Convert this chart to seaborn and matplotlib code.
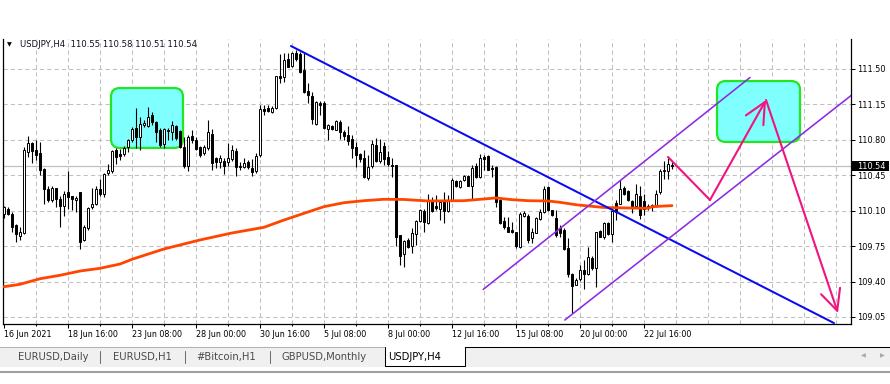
import numpy as np
import pandas as pd
import matplotlib
matplotlib.use("Agg")
import matplotlib.pyplot as plt
import matplotlib.transforms as mtransforms
from matplotlib.patches import FancyBboxPatch, Rectangle
import seaborn as sns

# ---------------- data ----------------
symbol = "USDJPY,H4"
header_ohlc = ["110.55", "110.58", "110.51", "110.54"]
bid_price = 110.54

opens = [110.07, 110.12, 110.07, 109.96, 109.85, 109.88, 110.68, 110.77, 110.70, 110.67,
         110.51, 110.31, 110.21, 110.32, 110.22, 110.15, 110.28, 110.25, 110.21, 110.28,
         109.81, 109.93, 110.14, 110.17, 110.31, 110.27, 110.47, 110.49, 110.70, 110.66,
         110.66, 110.73, 110.80, 110.92, 110.83, 110.95, 110.94, 111.05, 110.98, 110.90,
         110.76, 110.90, 110.88, 110.94, 110.89, 110.73, 110.54, 110.84, 110.80, 110.73,
         110.67, 110.72, 110.86, 110.62, 110.58, 110.59, 110.58, 110.61, 110.69, 110.54,
         110.53, 110.58, 110.52, 110.49, 110.65, 111.10, 111.11, 111.08, 111.11, 111.43,
         111.42, 111.60, 111.53, 111.66, 111.65, 111.49, 111.28, 111.23, 110.96, 111.16,
         111.16, 110.91, 110.94, 110.90, 110.98, 110.88, 110.85, 110.81, 110.73, 110.66,
         110.62, 110.42, 110.54, 110.75, 110.59, 110.74, 110.63, 110.55, 110.55, 109.86,
         109.67, 109.81, 109.75, 109.87, 110.00, 110.10, 109.98, 110.20, 110.15, 110.12,
         110.21, 110.10, 110.21, 110.39, 110.33, 110.40, 110.44, 110.34, 110.54, 110.43,
         110.63, 110.64, 110.52, 110.53, 110.21, 110.00, 109.94, 109.91, 109.89, 109.74,
         110.05, 110.05, 109.83, 109.88, 110.02, 110.09, 110.33, 110.11, 110.03, 109.93,
         109.91, 109.73, 109.47, 109.37, 109.43, 109.51, 109.47, 109.63, 109.53, 109.90,
         109.84, 109.98, 109.87, 110.18, 110.17, 110.32, 110.29, 110.20, 110.15, 110.25,
         110.20, 110.14, 110.14, 110.15, 110.28, 110.49, 110.49, 110.55]
highs = [110.15, 110.14, 110.09, 109.97, 109.94, 110.73, 110.84, 110.78, 110.80, 110.78,
         110.52, 110.34, 110.34, 110.32, 110.25, 110.29, 110.49, 110.25, 110.25, 110.28,
         109.96, 110.14, 110.32, 110.34, 110.41, 110.47, 110.56, 110.70, 110.72, 110.71,
         110.74, 110.81, 110.93, 111.11, 111.03, 111.00, 111.12, 111.08, 110.99, 110.92,
         110.92, 110.92, 110.99, 110.95, 110.90, 110.83, 110.85, 110.90, 110.83, 110.74,
         110.75, 111.00, 110.91, 110.63, 110.65, 110.62, 110.77, 110.75, 110.72, 110.58,
         110.62, 110.60, 110.61, 110.67, 111.14, 111.14, 111.14, 111.13, 111.43, 111.65,
         111.66, 111.66, 111.67, 111.69, 111.67, 111.66, 111.36, 111.27, 111.18, 111.18,
         111.18, 110.96, 110.95, 111.00, 111.00, 110.90, 110.94, 110.85, 110.78, 110.67,
         110.70, 110.65, 110.80, 110.82, 110.81, 110.78, 110.69, 110.62, 110.55, 109.86,
         109.81, 109.83, 109.93, 110.01, 110.12, 110.12, 110.27, 110.24, 110.26, 110.21,
         110.28, 110.26, 110.42, 110.40, 110.40, 110.45, 110.45, 110.55, 110.57, 110.66,
         110.65, 110.65, 110.55, 110.54, 110.22, 110.04, 110.04, 109.99, 109.89, 110.09,
         110.10, 110.07, 109.93, 110.04, 110.12, 110.34, 110.34, 110.11, 110.11, 109.96,
         109.93, 109.83, 109.48, 109.44, 109.56, 109.61, 109.74, 109.65, 109.89, 109.91,
         109.99, 109.99, 110.14, 110.21, 110.40, 110.34, 110.30, 110.21, 110.36, 110.34,
         110.27, 110.17, 110.17, 110.30, 110.51, 110.59, 110.62, 110.58]
lows = [110.03, 110.06, 109.89, 109.79, 109.81, 109.87, 110.63, 110.57, 110.60, 110.45,
        110.17, 110.19, 110.19, 110.14, 109.94, 110.05, 110.12, 110.11, 110.09, 109.72,
        109.80, 109.91, 110.12, 110.16, 110.25, 110.24, 110.45, 110.47, 110.56, 110.60,
        110.64, 110.68, 110.78, 110.72, 110.70, 110.93, 110.93, 110.95, 110.78, 110.73,
        110.72, 110.80, 110.80, 110.80, 110.72, 110.52, 110.49, 110.77, 110.70, 110.63,
        110.65, 110.70, 110.50, 110.52, 110.52, 110.46, 110.54, 110.59, 110.44, 110.50,
        110.52, 110.51, 110.44, 110.47, 110.63, 111.05, 111.08, 111.07, 111.10, 111.36,
        111.37, 111.52, 111.52, 111.58, 111.46, 111.26, 111.16, 110.96, 110.95, 111.05,
        110.91, 110.80, 110.90, 110.90, 110.81, 110.80, 110.75, 110.62, 110.53, 110.58,
        110.42, 110.40, 110.52, 110.58, 110.57, 110.55, 110.54, 110.43, 109.75, 109.56,
        109.54, 109.73, 109.68, 109.76, 109.99, 109.89, 109.97, 110.09, 110.11, 110.01,
        109.98, 110.09, 110.20, 110.33, 110.32, 110.39, 110.34, 110.21, 110.42, 110.42,
        110.50, 110.50, 110.43, 110.14, 109.97, 109.92, 109.89, 109.88, 109.73, 109.73,
        110.04, 109.78, 109.78, 109.88, 110.01, 110.08, 110.10, 110.05, 109.84, 109.84,
        109.71, 109.45, 109.09, 109.37, 109.41, 109.33, 109.46, 109.51, 109.35, 109.84,
        109.82, 109.86, 109.79, 110.01, 110.17, 110.26, 110.20, 110.08, 110.14, 110.02,
        110.06, 110.11, 110.10, 110.14, 110.27, 110.41, 110.41, 110.51]
closes = [110.14, 110.07, 109.94, 109.87, 109.89, 110.70, 110.77, 110.69, 110.65, 110.50,
          110.31, 110.21, 110.32, 110.22, 110.15, 110.27, 110.24, 110.22, 110.23, 109.79,
          109.94, 110.13, 110.17, 110.31, 110.27, 110.46, 110.50, 110.69, 110.63, 110.64,
          110.72, 110.80, 110.91, 110.83, 110.96, 110.97, 111.03, 110.98, 110.88, 110.75,
          110.91, 110.89, 110.95, 110.82, 110.73, 110.54, 110.83, 110.80, 110.71, 110.65,
          110.73, 110.88, 110.57, 110.58, 110.62, 110.54, 110.62, 110.70, 110.53, 110.53,
          110.57, 110.53, 110.48, 110.64, 111.10, 111.09, 111.09, 111.11, 111.43, 111.41,
          111.59, 111.52, 111.66, 111.60, 111.47, 111.27, 111.24, 111.01, 111.17, 111.14,
          110.92, 110.95, 110.91, 110.99, 110.88, 110.84, 110.79, 110.72, 110.65, 110.61,
          110.43, 110.53, 110.76, 110.59, 110.68, 110.61, 110.56, 110.54, 109.84, 109.65,
          109.80, 109.74, 109.88, 110.00, 110.11, 109.99, 110.20, 110.10, 110.13, 110.19,
          110.10, 110.21, 110.40, 110.34, 110.39, 110.44, 110.34, 110.52, 110.43, 110.62,
          110.61, 110.50, 110.51, 110.19, 109.98, 109.94, 109.89, 109.89, 109.75, 110.07,
          110.08, 109.81, 109.89, 110.03, 110.09, 110.31, 110.11, 110.06, 109.86, 109.88,
          109.72, 109.47, 109.36, 109.42, 109.51, 109.47, 109.64, 109.53, 109.89, 109.84,
          109.98, 109.87, 110.10, 110.09, 110.31, 110.27, 110.21, 110.15, 110.27, 110.06,
          110.12, 110.15, 110.16, 110.27, 110.49, 110.50, 110.56, 110.54]

ma_bars = [0, 4, 9, 14, 19, 24, 29, 32, 40, 49, 57, 65, 70, 75, 80, 85, 90, 95, 100,
           106, 115, 120, 123, 127, 131, 136, 139, 143, 146, 150, 156, 161, 162, 167]
ma_values = [109.349, 109.373, 109.428, 109.462, 109.504, 109.531, 109.573, 109.620,
             109.722, 109.811, 109.880, 109.936, 110.008, 110.074, 110.140, 110.179,
             110.199, 110.213, 110.211, 110.196, 110.199, 110.216, 110.226, 110.209,
             110.199, 110.196, 110.183, 110.159, 110.147, 110.132, 110.127, 110.124,
             110.140, 110.150]

time_label_bars = [0, 16, 32, 48, 64, 80, 96, 112, 128, 144, 160]
time_labels = ["16 Jun 2021", "18 Jun 16:00", "23 Jun 08:00", "28 Jun 00:00",
               "30 Jun 16:00", "5 Jul 08:00", "8 Jul 00:00", "12 Jul 16:00",
               "15 Jul 08:00", "20 Jul 00:00", "22 Jul 16:00"]
price_ticks = [109.05, 109.40, 109.75, 110.10, 110.45, 110.80, 111.15, 111.50]

# chart objects (bar index, price)
box_left = [26.75, 178.25]
box_right = [44.75, 199.0]
box_bottom = [110.720, 110.779]
box_top = [111.312, 111.381]
trend_blue_bars = [71.75, 207.5]
trend_blue_prices = [111.727, 108.99]
channel_up_bars = [119.8, 186.5]
channel_up_prices = [109.322, 111.416]
channel_low_bars = [140.2, 213.0]
channel_low_prices = [109.020, 111.276]
path_bars = [166.0, 176.5, 190.5, 208.5]
path_prices = [110.631, 110.206, 111.194, 109.089]

tabs = ["EURUSD,Daily", "EURUSD,H1", "#Bitcoin,H1", "GBPUSD,Monthly", "USDJPY,H4"]

# ---------------- style / layout ----------------
sns.set_style("white")
plt.rcParams['font.family'] = ['DejaVu Sans']

W, H = 890, 384
AX_L, AX_R, AX_T, AX_B = 3.3, 851.0, 39.0, 324.0
PX_PER_PRICE = 101.22
PX_PER_BAR = 4.0

fig = plt.figure(figsize=(W / 100, H / 100), dpi=100)
fig.patch.set_facecolor("white")
ax = fig.add_axes([AX_L / W, 1 - AX_B / H, (AX_R - AX_L) / W, (AX_B - AX_T) / H])
ax.set_facecolor("white")

xmin, xmax = (AX_L - 4) / PX_PER_BAR, (AX_R - 4) / PX_PER_BAR
ymin = 111.5 - (AX_B - 69) / PX_PER_PRICE
ymax = 111.5 + (69 - AX_T) / PX_PER_PRICE

# grid
grid_kw = dict(color="#C0C0C0", lw=0.75, ls=(0, (4, 3)), zorder=0.5)
for p in price_ticks:
    ax.axhline(p, **grid_kw)
for b in range(8, int(xmax) + 1, 8):
    ax.axvline(b, **grid_kw)
ax.axhline(bid_price, color="#C0C0C0", lw=0.9, zorder=0.6)

# rectangles
asp = PX_PER_BAR / PX_PER_PRICE
for x0, x1, p0, p1 in zip(box_left, box_right, box_bottom, box_top):
    ax.add_patch(FancyBboxPatch((x0, p0), x1 - x0, p1 - p0,
                                boxstyle="round,pad=0,rounding_size=2.2",
                                mutation_aspect=asp, fc="#80FFFF", ec="#22E622",
                                lw=1.6, zorder=1))

# candles
o = np.array(opens); h = np.array(highs); l = np.array(lows); c = np.array(closes)
idx = np.arange(len(o))
bull = c >= o
body_lo = np.minimum(o, c)
body_h = np.maximum(np.abs(c - o), 0.004)
ax.vlines(idx, l, h, color="black", lw=0.8, zorder=3)
ax.bar(idx, body_h, bottom=body_lo, width=0.62,
       color=np.where(bull, "white", "black"), edgecolor="black",
       linewidth=0.7, zorder=4)

# moving average
ma_df = pd.DataFrame({"bar": ma_bars, "ma": ma_values})
sns.lineplot(data=ma_df, x="bar", y="ma", color="#FF4500", lw=2.0, ax=ax, zorder=5)

# trend lines
ax.plot(trend_blue_bars, trend_blue_prices, color="#0A0AF0", lw=1.45, zorder=6)
ax.plot(channel_up_bars, channel_up_prices, color="#8A2BE2", lw=1.15, zorder=6)
ax.plot(channel_low_bars, channel_low_prices, color="#8A2BE2", lw=1.15, zorder=6)

# pink path with arrows
pink = "#F0147F"
ax.plot(path_bars[:2], path_prices[:2], color=pink, lw=1.5, zorder=7,
        solid_capstyle="round")
for k in (1, 2):
    ax.annotate("", xy=(path_bars[k + 1], path_prices[k + 1]),
                xytext=(path_bars[k], path_prices[k]),
                arrowprops=dict(arrowstyle="->,head_length=0.75,head_width=0.36",
                                color=pink, lw=1.5, shrinkA=0, shrinkB=0,
                                mutation_scale=20),
                zorder=7)

ax.set_xlim(xmin, xmax)
ax.set_ylim(ymin, ymax)
ax.set_xlabel("")
ax.set_ylabel("")

# axes ticks
ax.set_xticks(time_label_bars)
ax.set_xticklabels(time_labels, ha="left", fontsize=5.8)
ax.set_xticks([b for b in range(8, 168, 16)], minor=True)
ax.tick_params(axis="x", which="major", length=3, width=0.75, pad=1.5,
               direction="out", colors="black", bottom=True)
ax.tick_params(axis="x", which="minor", length=1.6, width=0.75,
               direction="out", colors="black", bottom=True)
ax.yaxis.tick_right()
ax.set_yticks(price_ticks)
ax.set_yticklabels([f"{p:.2f}" for p in price_ticks], fontsize=5.9)
ax.tick_params(axis="y", which="major", length=3, width=0.75, pad=1.5,
               direction="out", colors="black", right=True, left=False)
for side in ("left", "right", "bottom"):
    ax.spines[side].set_color("black")
    ax.spines[side].set_linewidth(0.9)
    ax.spines[side].set_visible(True)
ax.spines["top"].set_visible(False)

# bid price box
trans = mtransforms.blended_transform_factory(ax.transAxes, ax.transData)
ax_w_px = AX_R - AX_L
ax.add_patch(Rectangle((1.0, bid_price - 0.047), 38 / ax_w_px, 0.094, transform=trans,
                       fc="black", ec="none", clip_on=False, zorder=8))
ax.text(1 + 6 / ax_w_px, bid_price, f"{bid_price:.2f}", transform=trans,
        color="white", fontsize=5.9, va="center", ha="left", zorder=9, clip_on=False)

# ---------------- decorations (header, tab bar) ----------------
deco = fig.add_axes([0, 0, 1, 1], zorder=10)
deco.set_xlim(0, W)
deco.set_ylim(H, 0)
deco.axis("off")

deco.text(6.5, 44.5, "▼", fontsize=4.5, va="center", ha="left", color="black")
deco.text(19.5, 44.5, f"{symbol}  {' '.join(header_ohlc)}", fontsize=6.1,
          va="center", ha="left", color="#101020")

deco.add_patch(Rectangle((0, 347), W, 20, fc="#F0F0F0", ec="none"))
deco.plot([0, 385], [347, 347], color="#B4B4B4", lw=0.75)
deco.plot([465, W], [347, 347], color="black", lw=0.75)
deco.add_patch(Rectangle((385, 347), 80, 18.5, fc="white", ec="none"))
deco.plot([385, 385, 465, 465], [347, 365.5, 365.5, 347], color="black", lw=0.75)
deco.plot([0, W], [371.5, 371.5], color="#A0A0A0", lw=1.5)
for sx in (100, 185, 269.5):
    deco.plot([sx, sx], [351, 363], color="#707070", lw=0.75)
tab_x = [18.3, 112.7, 196, 281.7, 387.7]
for tx, name in zip(tab_x, tabs):
    active = name == symbol
    deco.text(tx, 357, name, fontsize=7.2, va="center", ha="left",
              color="black" if active else "#4A4A4A")
deco.text(863, 356, "◀", fontsize=4.5, va="center", ha="center", color="#A8A8A8")
deco.text(882, 356, "▶", fontsize=4.5, va="center", ha="center", color="#A8A8A8")

fig.savefig("out.png", dpi=100, facecolor="white")
